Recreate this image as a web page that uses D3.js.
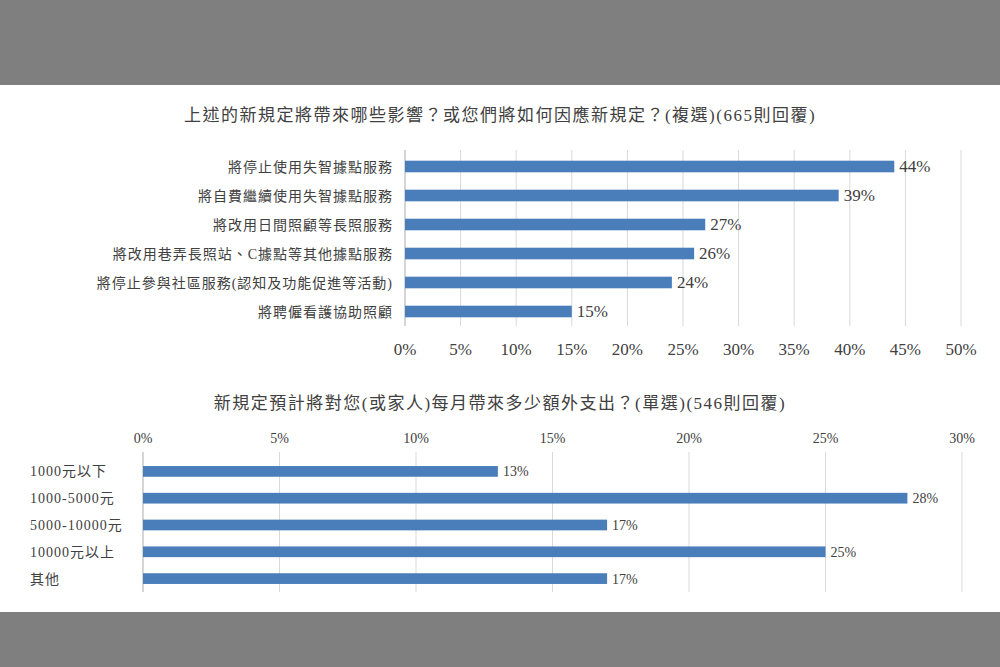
<!DOCTYPE html>
<html><head><meta charset="utf-8">
<script src="https://cdn.jsdelivr.net/npm/d3@7"></script>
<style>body{margin:0;background:#fff}svg text{font-family:"Liberation Serif","Noto Sans CJK TC",serif;fill:#404040}</style>
</head><body><div id="chart"></div>
<script>
// 上圖資料
const cats1 = ["將停止使用失智據點服務","將自費繼續使用失智據點服務","將改用日間照顧等長照服務","將改用巷弄長照站、C據點等其他據點服務","將停止參與社區服務(認知及功能促進等活動)","將聘僱看護協助照顧"];
const vals1 = [44, 39, 27, 26, 24, 15];
const ticks1 = [0,5,10,15,20,25,30,35,40,45,50];
// 下圖資料
const cats2 = ["1000元以下","1000-5000元","5000-10000元","10000元以上","其他"];
const vals2 = [13, 28, 17, 25, 17];
const ticks2 = [0,5,10,15,20,25,30];

const color = "#4a7ebb";
const svg = d3.select("#chart").append("svg").attr("width",1000).attr("height",667);
svg.append("rect").attr("width",1000).attr("height",85).attr("fill","#7f7f7f");
svg.append("rect").attr("y",612).attr("width",1000).attr("height",55).attr("fill","#7f7f7f");

function chart(o){
  const x = d3.scaleLinear().domain([0,o.max]).range([o.x0,o.x1]);
  const y = d3.scaleBand().domain(o.cats).range([o.y0,o.y1]).paddingInner(0.6).paddingOuter(0.3);
  svg.append("text").attr("x",500).attr("y",o.ty).attr("text-anchor","middle")
    .style("font-size","17px").style("letter-spacing","1.5px").text(o.title);
  const g = svg.append("g");
  g.selectAll(".grid").data(o.ticks).enter().append("line")
    .attr("x1",d=>x(d)).attr("x2",d=>x(d)).attr("y1",o.gy0).attr("y2",o.gy1)
    .attr("stroke","#d9d9d9");
  g.append("line").attr("x1",o.x0).attr("x2",o.x0).attr("y1",o.gy0).attr("y2",o.gy1).attr("stroke","#bfbfbf");
  g.selectAll(".tk").data(o.ticks).enter().append("text")
    .attr("x",d=>x(d)).attr("y",o.ay).attr("text-anchor","middle")
    .style("font-size",o.afs).text(d=>d+"%");
  g.selectAll(".bar").data(o.vals).enter().append("rect")
    .attr("x",o.x0).attr("y",(d,i)=>y(o.cats[i])).attr("width",d=>x(d)-o.x0)
    .attr("height",y.bandwidth()).attr("fill",color);
  g.selectAll(".vl").data(o.vals).enter().append("text")
    .attr("x",d=>x(d)+5).attr("y",(d,i)=>y(o.cats[i])+y.bandwidth()/2+5)
    .style("font-size",o.vfs).text(d=>d+"%");
  g.selectAll(".cl").data(o.cats).enter().append("text")
    .attr("x",o.cx).attr("y",d=>y(d)+y.bandwidth()/2+5).attr("text-anchor",o.canchor)
    .style("font-size","14px").style("letter-spacing","1px").text(d=>d);
}
chart({cats:cats1,vals:vals1,ticks:ticks1,max:50,x0:405,x1:961,y0:152,y1:326,gy0:150,gy1:326,
  ty:121,title:"上述的新規定將帶來哪些影響？或您們將如何因應新規定？(複選)(665則回覆)",
  ay:355,afs:"17px",vfs:"17px",cx:393,canchor:"end"});
chart({cats:cats2,vals:vals2,ticks:ticks2,max:30,x0:143,x1:962,y0:458,y1:592,gy0:452,gy1:592,
  ty:409,title:"新規定預計將對您(或家人)每月帶來多少額外支出？(單選)(546則回覆)",
  ay:443,afs:"14px",vfs:"14px",cx:30,canchor:"start"});
</script></body></html>
